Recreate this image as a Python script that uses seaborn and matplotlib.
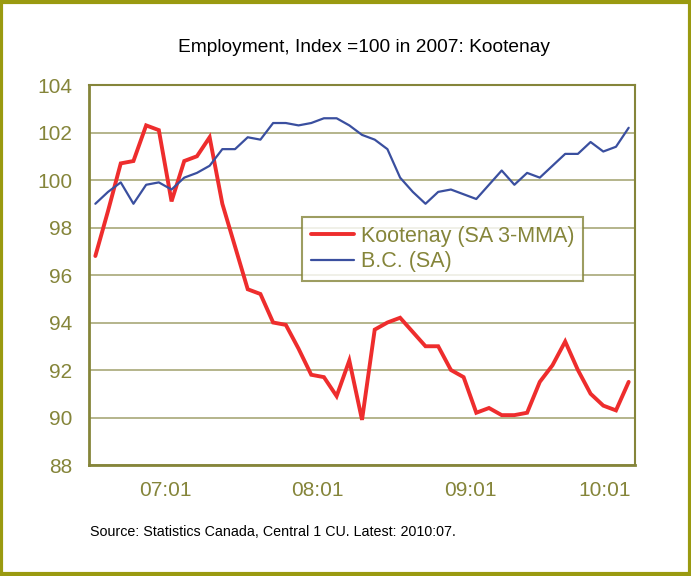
import pandas as pd
import matplotlib.pyplot as plt
import matplotlib.patches as mpatches
import seaborn as sns

# monthly series, 2007:01 .. 2010:07
months = pd.period_range("2007-01", "2010-07", freq="M").strftime("%y:%m")
kootenay = [96.8, 98.7, 100.7, 100.8, 102.3, 102.1, 99.1, 100.8, 101.0, 101.8,
            99.0, 97.2, 95.4, 95.2, 94.0, 93.9, 92.9, 91.8, 91.7, 90.9,
            92.4, 89.9, 93.7, 94.0, 94.2, 93.6, 93.0, 93.0, 92.0, 91.7,
            90.2, 90.4, 90.1, 90.1, 90.2, 91.5, 92.2, 93.2, 92.0, 91.0,
            90.5, 90.3, 91.5]
bc = [99.0, 99.5, 99.9, 99.0, 99.8, 99.9, 99.6, 100.1, 100.3, 100.6,
      101.3, 101.3, 101.8, 101.7, 102.4, 102.4, 102.3, 102.4, 102.6, 102.6,
      102.3, 101.9, 101.7, 101.3, 100.1, 99.5, 99.0, 99.5, 99.6, 99.4,
      99.2, 99.8, 100.4, 99.8, 100.3, 100.1, 100.6, 101.1, 101.1, 101.6,
      101.2, 101.4, 102.2]
year_labels = ["07:01", "08:01", "09:01", "10:01"]

df = pd.DataFrame({"month": months, "Kootenay": kootenay, "BC": bc})
df["i"] = range(len(df))

olive = "#85853a"
grid_col = "#a8a878"

sns.set_style("white")
plt.rcParams["font.family"] = ["Liberation Sans", "DejaVu Sans"]

fig = plt.figure(figsize=(6.91, 5.76), dpi=100)
ax = fig.add_axes([0.1288, 0.1927, 0.7902, 0.6597])

sns.lineplot(data=df, x="i", y="Kootenay", color="#ee2d2d", linewidth=2.8,
             label="Kootenay (SA 3-MMA)", ax=ax)
sns.lineplot(data=df, x="i", y="BC", color="#3a4f9f", linewidth=1.6,
             label="B.C. (SA)", ax=ax)
ax.lines[0].set_solid_joinstyle("miter")

# axes
n = len(df)
ax.set_xlim(-0.5, n - 0.5)
ax.set_ylim(88, 104)
ax.set_yticks(range(88, 105, 2))
ax.yaxis.grid(True, color=grid_col, linewidth=1.2)
ax.set_xlabel("")
ax.set_ylabel("")

ax.set_xticks([b - 0.5 for b in range(0, n + 1, 12)] + [n - 0.5])
ax.set_xticklabels([])
ax.set_xticks([b - 0.5 for b in range(n + 1)], minor=True)
ax.tick_params(axis="x", which="major", length=9, width=1.2, color=olive, direction="out")
ax.tick_params(axis="x", which="minor", length=5, width=1.2, color=olive, direction="out")
ax.tick_params(axis="y", length=9, width=1.2, color=olive, labelcolor=olive,
               labelsize=15, pad=3)

# year labels centred on their 12-month groups
label_pos = [5.5, 17.5, 29.5, 40.1]
for x, lab in zip(label_pos, year_labels):
    ax.text(x, -0.068, lab, transform=ax.get_xaxis_transform(), ha="center",
            va="center", fontsize=15, color=olive)

for s in ax.spines.values():
    s.set_color(olive)
    s.set_linewidth(1.5)
ax.spines["left"].set_linewidth(2)
ax.spines["bottom"].set_linewidth(2)

leg = ax.legend(loc="upper left", bbox_to_anchor=(0.39, 0.652), borderaxespad=0,
                fontsize=15.5, frameon=True, fancybox=False, handlelength=2.0,
                handletextpad=0.35, borderpad=0.4, labelspacing=0.2)
leg.get_frame().set_edgecolor(olive)
leg.get_frame().set_linewidth(1.5)
for t in leg.get_texts():
    t.set_color(olive)

fig.text(0.527, 0.918, "Employment, Index =100 in 2007: Kootenay",
         ha="center", va="center", fontsize=13.8, color="black")
fig.text(0.395, 0.076, "Source: Statistics Canada, Central 1 CU. Latest: 2010:07.",
         ha="center", va="center", fontsize=10.3, color="black")

fig.patches.append(mpatches.Rectangle((0.002, 0.003), 0.996, 0.994,
                                      transform=fig.transFigure, fill=False,
                                      edgecolor="#9a9a10", linewidth=3))

plt.savefig("out.png", dpi=100)
